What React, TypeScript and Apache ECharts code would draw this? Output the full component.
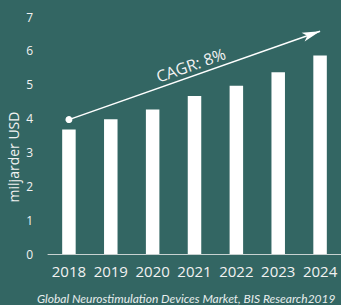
import React, { useEffect, useRef } from "react";
import * as echarts from "echarts";

const categories = ["2018", "2019", "2020", "2021", "2022", "2023", "2024"];
const values = [3.68, 3.98, 4.27, 4.67, 4.97, 5.37, 5.86];
const yTicks = [0, 7, 1]; // min, max, interval
const cagrStart = [0, 3.97];
const cagrEnd = [6.2, 6.58];
const cagrLabel = "CAGR: 8%";
const yName = "miljarder USD";
const sourceText = "Global Neurostimulation Devices Market, BIS Research2019";

export default function App() {
  const ref = useRef<HTMLDivElement>(null);
  useEffect(() => {
    document.body.style.margin = "0";
    const chart = echarts.init(ref.current!, null, { renderer: "svg" });
    chart.setOption({
      animation: false,
      backgroundColor: "#336663",
      grid: { left: 48, top: 17, width: 299, bottom: 51 },
      xAxis: {
        type: "category",
        data: categories,
        axisLine: { show: true, lineStyle: { color: "#c8d2d1", width: 1 } },
        axisTick: { show: false },
        axisLabel: {
          interval: 0,
          color: "#f2f2f2",
          fontSize: 15,
          fontFamily: "Open Sans",
          margin: 9,
        },
      },
      yAxis: {
        type: "value",
        min: yTicks[0],
        max: yTicks[1],
        interval: yTicks[2],
        splitLine: { show: false },
        axisLine: { show: false },
        axisTick: { show: false },
        axisLabel: {
          color: "#f2f2f2",
          fontSize: 12,
          fontFamily: "Open Sans",
          margin: 15,
        },
      },
      graphic: [
        {
          type: "text",
          x: 13,
          y: 157,
          rotation: Math.PI / 2,
          style: {
            text: yName,
            fill: "#f2f2f2",
            font: "14px 'Open Sans'",
            align: "center",
            verticalAlign: "middle",
          },
        },
        {
          type: "text",
          x: 37,
          y: 298,
          style: {
            text: sourceText,
            fill: "#e8eeee",
            font: "italic 12px Lato",
            align: "left",
            verticalAlign: "middle",
          },
        },
      ],
      series: [
        {
          type: "bar",
          data: values,
          barWidth: 13.5,
          itemStyle: { color: "#ffffff" },
          markLine: {
            silent: true,
            symbol: ["circle", "arrow"],
            symbolSize: [7, 18],
            lineStyle: { color: "#ffffff", width: 1.5, type: "solid" },
            label: {
              show: true,
              position: "middle",
              formatter: cagrLabel,
              color: "#f2f2f2",
              fontSize: 16,
              fontFamily: "Open Sans",
              distance: 3,
            },
            data: [
              [
                { coord: cagrStart },
                { coord: cagrEnd },
              ],
            ],
          },
        },
      ],
    });
    return () => chart.dispose();
  }, []);
  return <div ref={ref} style={{ width: 341, height: 305 }} />;
}
